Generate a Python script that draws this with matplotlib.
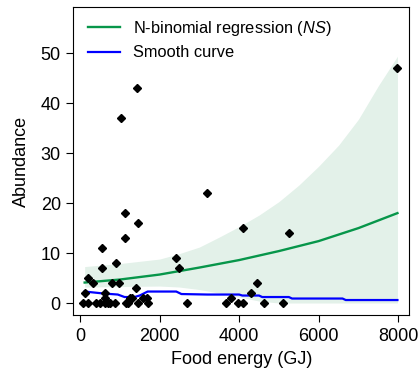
import numpy as np
import matplotlib
matplotlib.use("Agg")
import matplotlib.pyplot as plt

plt.rcParams['font.family'] = ['Liberation Sans', 'DejaVu Sans']
plt.rcParams['mathtext.fontset'] = 'custom'
plt.rcParams['mathtext.it'] = 'Liberation Sans:italic'
plt.rcParams['mathtext.rm'] = 'Liberation Sans'

# observed counts (food energy GJ, abundance)
food_energy = [1430, 1035, 1136, 1455, 1136, 3198, 4106, 5260, 2415, 2490,
               555, 555, 909, 202, 7980,
               318, 808, 975, 4460,
               1414,
               117, 639, 4300,
               640, 1250, 1300, 1590, 1690, 3800,
               83, 209, 400, 500, 640, 700, 760, 880, 1150, 1200,
               1460, 1710, 2700, 3680, 3980, 4090, 4630, 5110]
abundance = [43, 37, 18, 16, 13, 22, 15, 14, 9, 7,
             11, 7, 8, 5, 47,
             4, 4, 4, 4,
             3,
             2, 2, 2,
             1, 1, 1, 1, 1, 1,
             0, 0, 0, 0, 0, 0, 0, 0, 0, 0,
             0, 0, 0, 0, 0, 0, 0, 0]

# negative binomial fit and its confidence band
fit_x = [117, 1000, 2000, 3000, 4000, 5000, 6000, 7000, 7980]
fit_y = [4.1, 4.7, 5.7, 7.1, 8.6, 10.4, 12.4, 15.0, 18.0]

band_x = [117, 1000, 2000, 2500, 3000, 3500, 4000, 4500, 5000, 5500,
          6000, 6500, 7000, 7500, 7980]
band_hi = [7.3, 7.9, 8.8, 9.9, 11.2, 13.2, 15.3, 17.6, 20.3, 23.6,
           27.4, 31.6, 36.8, 43.5, 49.4]
band_lo = [3.2, 3.3, 3.4, 3.2, 2.7, 2.0, 1.2, 0.4, 0.0, 0.0,
           0.0, 0.0, 0.0, 0.0, 0.0]

# smooth curve
smooth_x = [117, 600, 950, 1120, 1370, 1500, 1700, 2420, 2550, 3200, 4000,
            4080, 4500, 4580, 5250, 5330, 6600, 6680, 7980]
smooth_y = [2.3, 1.9, 1.7, 1.2, 1.2, 1.5, 2.3, 2.3, 1.8, 1.7, 1.7,
            1.5, 1.5, 1.2, 1.2, 0.9, 0.9, 0.6, 0.6]

fig = plt.figure(figsize=(4.18, 3.83), dpi=100)
ax = fig.add_axes([0.1754, 0.1775, 0.8036, 0.8034])

ax.fill_between(band_x, band_lo, band_hi, color='#E3F1E9', lw=0, zorder=1)
ax.plot(fit_x, fit_y, color='#07964A', lw=1.7, zorder=2,
        label='N-binomial regression ($\\it{NS}$)')
ax.plot(smooth_x, smooth_y, color='#0000FF', lw=1.6, zorder=3,
        label='Smooth curve')
ax.plot(food_energy, abundance, 'D', color='black', ms=4, zorder=4)

ax.set_xlim(-168, 8276)
ax.set_ylim(-2.4, 59.2)
ax.set_xticks([0, 2000, 4000, 6000, 8000])
ax.set_yticks([0, 10, 20, 30, 40, 50])
ax.tick_params(direction='out', length=5, width=0.8, labelsize=13, pad=4)
for s in ax.spines.values():
    s.set_linewidth(0.8)

ax.set_xlabel('Food energy (GJ)', fontsize=13, labelpad=5)
ax.set_ylabel('Abundance', fontsize=13, labelpad=8)

ax.legend(loc='upper left', bbox_to_anchor=(0.044, 0.962), frameon=False,
          fontsize=11.8, handlelength=1.95, handletextpad=0.8,
          borderpad=0, borderaxespad=0, labelspacing=0.45)

fig.savefig('out.png', dpi=100)
